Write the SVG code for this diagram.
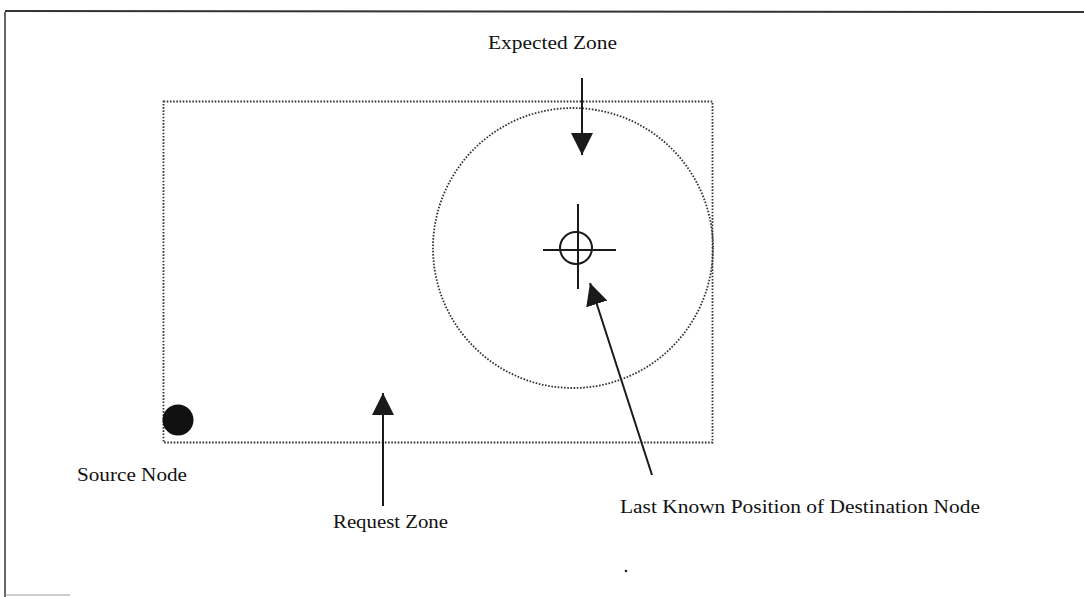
<svg xmlns="http://www.w3.org/2000/svg" width="1084" height="597" viewBox="0 0 1084 597">
<style>
.lbl{font-family:"Liberation Serif","Times New Roman",serif;font-size:19px;fill:#111}
.dot{fill:none;stroke:#333;stroke-width:1.8;stroke-dasharray:1.6 1.6}
.ln{stroke:#1a1a1a;stroke-width:2;fill:none}
</style>
<defs>
<marker id="ahb" markerWidth="22" markerHeight="22" refX="22" refY="11" orient="auto" markerUnits="userSpaceOnUse" viewBox="0 0 22 22">
<path d="M0,0 L22,11 L0,22 z" fill="#1a1a1a"/>
</marker>
</defs>
<rect width="1084" height="597" fill="#fff"/>
<g id="frame">
<path d="M5,12 L5,597" stroke="#333" stroke-width="1.5"/>
<path d="M5,11 L1084,12" stroke="#333" stroke-width="2"/>
<path d="M5,595 L70,595" stroke="#999" stroke-width="1"/>
</g>
<g id="request-zone-rect">
<rect x="163.5" y="101.5" width="549" height="341" class="dot"/>
</g>
<g id="expected-zone-circle">
<circle cx="573" cy="248" r="140" class="dot"/>
</g>
<g id="destination">
<circle cx="576" cy="248" r="16" class="ln"/>
<line x1="578" y1="204" x2="578" y2="289" class="ln"/>
<line x1="543" y1="250" x2="616" y2="250" class="ln"/>
</g>
<g id="source-node">
<circle cx="178" cy="420" r="15.5" fill="#111"/>
</g>
<g id="connectors">
<line x1="582" y1="78" x2="582" y2="155" class="ln" marker-end="url(#ahb)"/>
<line x1="383" y1="506" x2="383" y2="393" class="ln" marker-end="url(#ahb)"/>
<line x1="652" y1="475" x2="590" y2="283" class="ln" marker-end="url(#ahb)"/>
</g>
<g id="labels">
<text class="lbl" x="488" y="49" textLength="129" lengthAdjust="spacingAndGlyphs">Expected Zone</text>
<text class="lbl" x="77" y="481" textLength="110" lengthAdjust="spacingAndGlyphs">Source Node</text>
<text class="lbl" x="333" y="528" textLength="115" lengthAdjust="spacingAndGlyphs">Request Zone</text>
<text class="lbl" x="620" y="513" textLength="360" lengthAdjust="spacingAndGlyphs">Last Known Position of Destination Node</text>
</g>
<circle cx="626" cy="571" r="1.3" fill="#222"/>
</svg>
